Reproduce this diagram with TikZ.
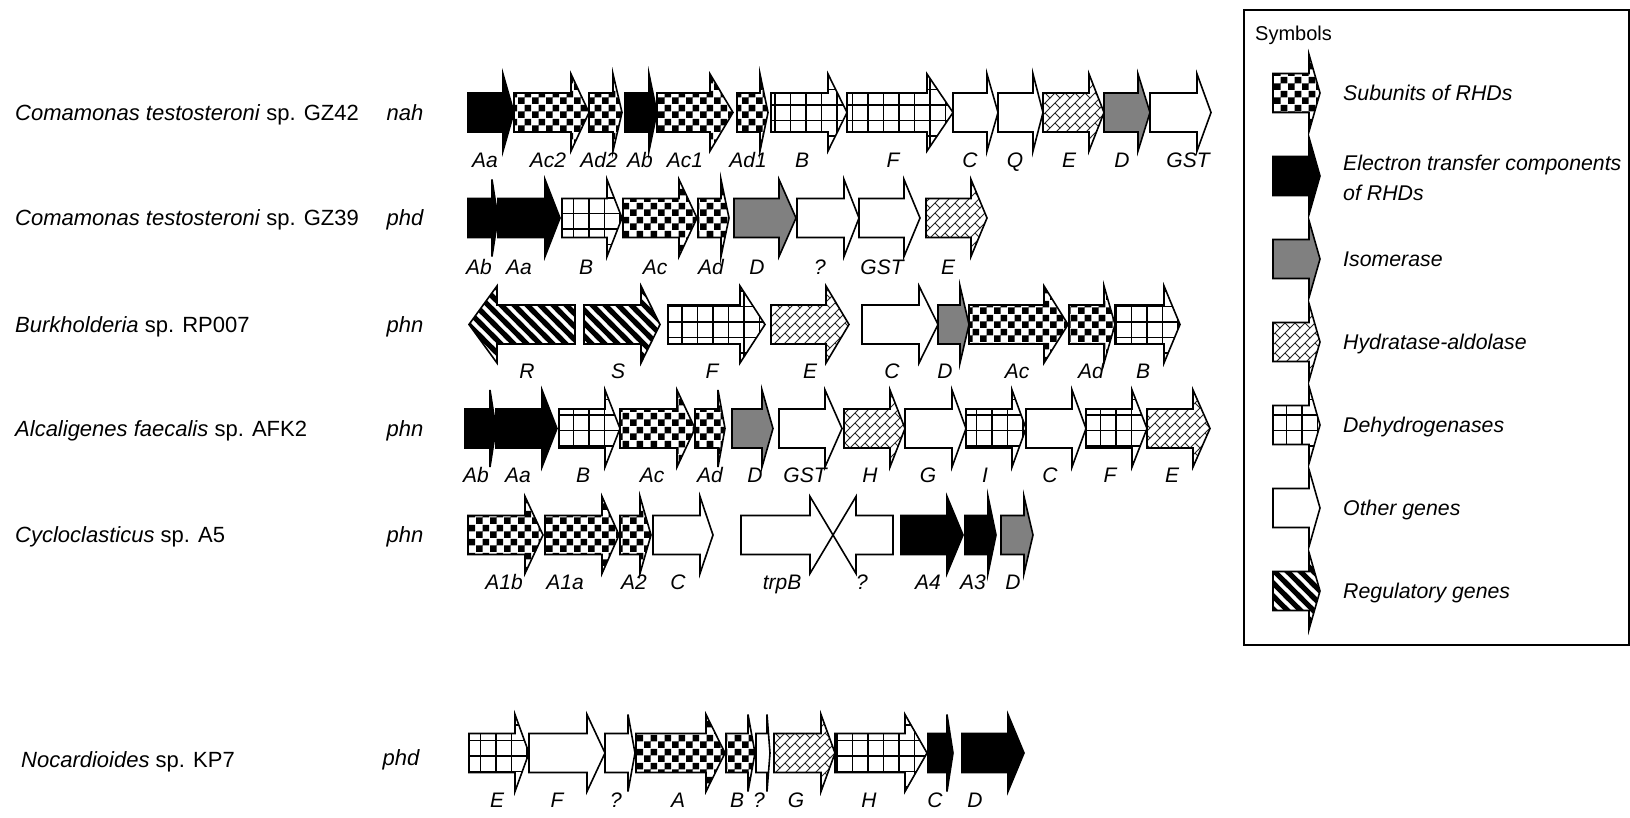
\documentclass[tikz,border=0pt]{standalone}
\usepackage{fontspec}
\setmainfont{Liberation Sans}
\usetikzlibrary{patterns}
\pgfdeclarepatternformonly{chk}{\pgfqpoint{0pt}{0pt}}{\pgfqpoint{14pt}{14pt}}{\pgfqpoint{14pt}{14pt}}{%
  \pgfpathrectangle{\pgfqpoint{0pt}{0pt}}{\pgfqpoint{7pt}{7pt}}%
  \pgfpathrectangle{\pgfqpoint{7pt}{7pt}}{\pgfqpoint{7pt}{7pt}}%
  \pgfusepath{fill}}
\pgfdeclarepatternformonly{grd}{\pgfqpoint{-1pt}{-1pt}}{\pgfqpoint{16.5pt}{16.5pt}}{\pgfqpoint{15.5pt}{15.5pt}}{%
  \pgfsetlinewidth{1.4pt}%
  \pgfpathmoveto{\pgfqpoint{0pt}{-1pt}}\pgfpathlineto{\pgfqpoint{0pt}{16.5pt}}%
  \pgfpathmoveto{\pgfqpoint{-1pt}{0pt}}\pgfpathlineto{\pgfqpoint{16.5pt}{0pt}}%
  \pgfusepath{stroke}}
\pgfdeclarepatternformonly{stripes}{\pgfqpoint{-4pt}{-4pt}}{\pgfqpoint{17pt}{17pt}}{\pgfqpoint{13pt}{13pt}}{%
  \pgfsetlinewidth{5pt}%
  \pgfpathmoveto{\pgfqpoint{-3pt}{16pt}}\pgfpathlineto{\pgfqpoint{16pt}{-3pt}}%
  \pgfusepath{stroke}}
\pgfdeclarepatternformonly{brk}{\pgfqpoint{-0.5pt}{-0.5pt}}{\pgfqpoint{20.5pt}{20.5pt}}{\pgfqpoint{20pt}{20pt}}{%
  \pgfsetlinewidth{0.9pt}%
  \pgfpathmoveto{\pgfqpoint{-1pt}{-1pt}}\pgfpathlineto{\pgfqpoint{21pt}{21pt}}%
  \pgfpathmoveto{\pgfqpoint{-1pt}{9pt}}\pgfpathlineto{\pgfqpoint{11pt}{21pt}}%
  \pgfpathmoveto{\pgfqpoint{9pt}{-1pt}}\pgfpathlineto{\pgfqpoint{21pt}{11pt}}%
  \pgfpathmoveto{\pgfqpoint{10pt}{0pt}}\pgfpathlineto{\pgfqpoint{5pt}{5pt}}%
  \pgfpathmoveto{\pgfqpoint{20pt}{0pt}}\pgfpathlineto{\pgfqpoint{15pt}{5pt}}%
  \pgfpathmoveto{\pgfqpoint{10pt}{10pt}}\pgfpathlineto{\pgfqpoint{5pt}{15pt}}%
  \pgfpathmoveto{\pgfqpoint{20pt}{10pt}}\pgfpathlineto{\pgfqpoint{15pt}{15pt}}%
  \pgfusepath{stroke}}
\definecolor{isogray}{HTML}{808080}
\def\gHB{19.5}
\def\gHH{38.5}
% #1 style, #2 body end, #3 head base, #4 tip, #5 centre y
\newcommand\garrow[5]{%
  \draw[gene,#1] (#2,#5-\gHB) -- (#3,#5-\gHB) -- (#3,#5-\gHH) -- (#4,#5) --
    (#3,#5+\gHH) -- (#3,#5+\gHB) -- (#2,#5+\gHB) -- cycle;}
\tikzset{
  gene/.style={draw=black, line width=1.6pt, line join=miter},
  blk/.style={fill=black},
  gry/.style={fill=isogray},
  wht/.style={fill=white},
  chkr/.style={pattern=chk},
  dehy/.style={pattern=grd},
  hyd/.style={pattern=brk, pattern color=black!85},
  regu/.style={pattern=stripes},
  lab/.style={font=\fontsize{21}{25}\selectfont\itshape, inner sep=0pt, text height=15pt, text depth=0pt},
  spec/.style={font=\fontsize{22}{26}\selectfont, anchor=west, inner sep=0pt, text height=15.7pt, text depth=0pt},
  opr/.style={font=\fontsize{22}{26}\selectfont\itshape, inner sep=0pt, text height=15.7pt, text depth=0pt},
  legt/.style={font=\fontsize{21.3}{25}\selectfont\itshape, anchor=west, inner sep=0pt, text height=15.2pt, text depth=0pt},
}
\begin{document}
\begin{tikzpicture}[x=1pt,y=-1pt]
\useasboundingbox (0,0) rectangle (1630,818);
\fill[white] (0,0) rectangle (1630,818);

% ---------------- species and operon names
\node[spec] (s1) at (15,112.5) {\textit{Comamonas testosteroni} sp. GZ42};
\node[spec] (s2) at (15,218) {\textit{Comamonas testosteroni} sp. GZ39};
\node[spec] (s3) at (15,324.5) {\textit{Burkholderia} sp. RP007};
\node[spec] (s4) at (15,428.5) {\textit{Alcaligenes faecalis} sp. AFK2};
\node[spec] (s5) at (15,535) {\textit{Cycloclasticus} sp. A5};
\node[spec] (s6) at (21,760) {\textit{Nocardioides} sp. KP7};
\node[opr] (o1) at (405,112.5) {nah};
\node[opr] (o2) at (405,218) {phd};
\node[opr] (o3) at (405,324.5) {phn};
\node[opr] (o4) at (405,428.5) {phn};
\node[opr] (o5) at (405,535) {phn};
\node[opr] (o6) at (401,758) {phd};

% ---------------- row 1
\garrow{blk}{468}{503}{514}{112.5}
\garrow{chkr}{514}{571}{589}{112.5}
\garrow{chkr}{589}{613}{622}{112.5}
\garrow{blk}{625}{649}{657}{112.5}
\garrow{chkr}{657}{710}{733}{112.5}
\garrow{chkr}{737}{760}{768}{112.5}
\garrow{dehy}{771}{828}{847}{112.5}
\garrow{dehy}{847}{927}{953}{112.5}
\garrow{wht}{953}{987}{998}{112.5}
\garrow{wht}{998}{1033}{1043}{112.5}
\garrow{hyd}{1043}{1089}{1104}{112.5}
\garrow{gry}{1104}{1138}{1150}{112.5}
\garrow{wht}{1150}{1197}{1211}{112.5}
\node[lab] (l1a) at (485,160) {Aa};
\node[lab] (l1b) at (548,160) {Ac2};
\node[lab] (l1c) at (599,160) {Ad2};
\node[lab] (l1d) at (640,160) {Ab};
\node[lab] (l1e) at (685,160) {Ac1};
\node[lab] (l1f) at (748,160) {Ad1};
\node[lab] (l1g) at (802,160) {B};
\node[lab] (l1h) at (893,160) {F};
\node[lab] (l1i) at (970,160) {C};
\node[lab] (l1j) at (1015,160) {Q};
\node[lab] (l1k) at (1069,160) {E};
\node[lab] (l1l) at (1122,160) {D};
\node[lab] (l1m) at (1188,160) {GST};

% ---------------- row 2
\garrow{blk}{468}{492}{498}{218}
\garrow{blk}{498}{545}{560}{218}
\garrow{dehy}{562}{607}{622}{218}
\garrow{chkr}{623}{679}{697}{218}
\garrow{chkr}{698}{721}{729}{218}
\garrow{gry}{734}{779}{796}{218}
\garrow{wht}{797}{844}{859}{218}
\garrow{wht}{859}{904}{920}{218}
\garrow{hyd}{926}{971}{987}{218}
\node[lab] (l2a) at (479,267) {Ab};
\node[lab] (l2b) at (519,267) {Aa};
\node[lab] (l2c) at (586,267) {B};
\node[lab] (l2d) at (655,267) {Ac};
\node[lab] (l2e) at (711,267) {Ad};
\node[lab] (l2f) at (757,267) {D};
\node[lab] (l2g) at (820,267) {?};
\node[lab] (l2h) at (882,267) {GST};
\node[lab] (l2i) at (948,267) {E};

% ---------------- row 3
\garrow{regu}{575}{497}{469}{324.5}
\garrow{regu}{584}{641}{660}{324.5}
\garrow{dehy}{668}{740}{765}{324.5}
\garrow{hyd}{771}{826}{849}{324.5}
\garrow{wht}{862}{919}{938}{324.5}
\garrow{gry}{938}{960}{969}{324.5}
\garrow{chkr}{969}{1044}{1068}{324.5}
\garrow{chkr}{1069}{1104}{1115}{324.5}
\garrow{dehy}{1115}{1164}{1180}{324.5}
\node[lab] (l3a) at (527,371) {R};
\node[lab] (l3b) at (618,371) {S};
\node[lab] (l3c) at (712,371) {F};
\node[lab] (l3d) at (810,371) {E};
\node[lab] (l3e) at (892,371) {C};
\node[lab] (l3f) at (945,371) {D};
\node[lab] (l3g) at (1017,371) {Ac};
\node[lab] (l3h) at (1091,371) {Ad};
\node[lab] (l3i) at (1143,371) {B};

% ---------------- row 4
\garrow{blk}{465}{490}{496}{428.5}
\garrow{blk}{496}{542}{557}{428.5}
\garrow{dehy}{559}{605}{620}{428.5}
\garrow{chkr}{620}{677}{695}{428.5}
\garrow{chkr}{695}{718}{725}{428.5}
\garrow{gry}{732}{762}{773}{428.5}
\garrow{wht}{779}{825}{842}{428.5}
\garrow{hyd}{844}{890}{905}{428.5}
\garrow{wht}{905}{952}{966}{428.5}
\garrow{dehy}{966}{1012}{1026}{428.5}
\garrow{wht}{1026}{1072}{1086}{428.5}
\garrow{dehy}{1086}{1132}{1147}{428.5}
\garrow{hyd}{1147}{1193}{1210}{428.5}
\node[lab] (l4a) at (476,475) {Ab};
\node[lab] (l4b) at (518,475) {Aa};
\node[lab] (l4c) at (583,475) {B};
\node[lab] (l4d) at (652,475) {Ac};
\node[lab] (l4e) at (710,475) {Ad};
\node[lab] (l4f) at (755,475) {D};
\node[lab] (l4g) at (805,475) {GST};
\node[lab] (l4h) at (870,475) {H};
\node[lab] (l4i) at (928,475) {G};
\node[lab] (l4j) at (985,475) {I};
\node[lab] (l4k) at (1050,475) {C};
\node[lab] (l4l) at (1110,475) {F};
\node[lab] (l4m) at (1172,475) {E};

% ---------------- row 5
\garrow{chkr}{468}{525}{543}{535}
\garrow{chkr}{545}{602}{619}{535}
\garrow{chkr}{620}{640}{651}{535}
\garrow{wht}{653}{700}{713}{535}
\garrow{wht}{741}{810}{833}{535}
\garrow{wht}{893}{856}{833}{535}
\garrow{blk}{901}{947}{963}{535}
\garrow{blk}{965}{988}{996}{535}
\garrow{gry}{1001}{1024}{1033}{535}
\node[lab] (l5a) at (504,582) {A1b};
\node[lab] (l5b) at (565,582) {A1a};
\node[lab] (l5c) at (634,582) {A2};
\node[lab] (l5d) at (678,582) {C};
\node[lab] (l5e) at (782,582) {trpB};
\node[lab] (l5f) at (862,582) {?};
\node[lab] (l5g) at (928,582) {A4};
\node[lab] (l5h) at (973,582) {A3};
\node[lab] (l5i) at (1013,582) {D};

% ---------------- row 6
\garrow{dehy}{469}{515}{529}{753}
\garrow{wht}{529}{587}{605}{753}
\garrow{wht}{605}{628}{635}{753}
\garrow{chkr}{636}{706}{725}{753}
\garrow{chkr}{726}{748}{755}{753}
\garrow{wht}{756}{767}{770}{753}
\garrow{hyd}{774}{821}{835}{753}
\garrow{dehy}{835}{905}{927}{753}
\garrow{blk}{928}{947}{953}{753}
\garrow{blk}{962}{1008}{1024}{753}
\node[lab] (l6a) at (497,800) {E};
\node[lab] (l6b) at (557,800) {F};
\node[lab] (l6c) at (616,800) {?};
\node[lab] (l6d) at (678,800) {A};
\node[lab] (l6e) at (737,800) {B};
\node[lab] (l6f) at (759,800) {?};
\node[lab] (l6g) at (796,800) {G};
\node[lab] (l6h) at (869,800) {H};
\node[lab] (l6i) at (935,800) {C};
\node[lab] (l6j) at (975,800) {D};

% ---------------- legend
\draw[line width=1.5pt] (1244,10) rectangle (1629,645);
\node[spec, font=\fontsize{20}{24}\selectfont] (sym) at (1255,33) {Symbols};
\garrow{chkr}{1273}{1309}{1320}{93}
\garrow{blk}{1273}{1309}{1320}{176}
\garrow{gry}{1273}{1309}{1320}{259}
\garrow{hyd}{1273}{1309}{1320}{342}
\garrow{dehy}{1273}{1309}{1320}{425}
\garrow{wht}{1273}{1309}{1320}{508}
\garrow{regu}{1273}{1309}{1320}{591}
\node[legt] (t1) at (1343,93) {Subunits of RHDs};
\node[legt] (t2a) at (1343,163) {Electron transfer components};
\node[legt] (t2b) at (1343,193) {of RHDs};
\node[legt] (t3) at (1343,259) {Isomerase};
\node[legt] (t4) at (1343,342) {Hydratase-aldolase};
\node[legt] (t5) at (1343,425) {Dehydrogenases};
\node[legt] (t6) at (1343,508) {Other genes};
\node[legt] (t7) at (1343,591) {Regulatory genes};
\end{tikzpicture}
\end{document}
